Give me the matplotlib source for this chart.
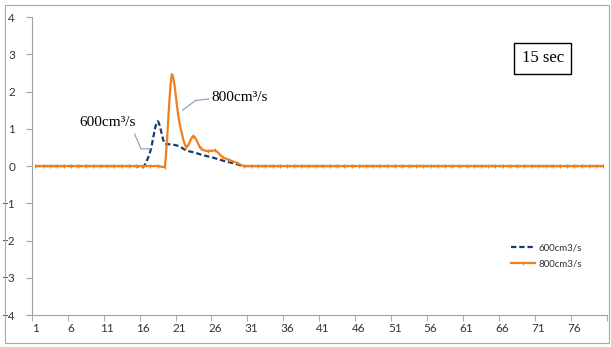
import matplotlib.pyplot as plt
import numpy as np
from matplotlib.lines import Line2D
from matplotlib.patches import PathPatch, Rectangle
from matplotlib.path import Path

# 80 categorias no eixo x
categorias = np.arange(1, 81)
rotulos_x = [str(c) for c in range(1, 81, 5)]

serie_600 = [0.0] * 15 + [-0.03, 0.40, 1.20, 0.59, 0.58, 0.53, 0.42, 0.37, 0.31,
                          0.26, 0.21, 0.15, 0.10, 0.05] + [0.0] * 51
serie_800 = [0.0] * 18 + [-0.03, 2.45, 1.22, 0.51, 0.80, 0.48, 0.40, 0.42, 0.25,
                          0.16, 0.09] + [0.0] * 51

nomes = ["600cm3/s", "800cm3/s"]
cor_600 = "#1B3A6B"
cor_800 = "#F07F1E"
cor_chamada = "#7F9DB9"


def caminho_suave(x, y):
    """Linha suavizada: curvas de Bezier pelos pontos, sem passar do intervalo."""
    p = np.column_stack([x, y]).astype(float)
    ext = np.vstack([p[0], p, p[-1]])
    verts = [p[0]]
    codes = [Path.MOVETO]
    for i in range(len(p) - 1):
        a, b = p[i], p[i + 1]
        c1 = ext[i + 1] + (ext[i + 2] - ext[i]) / 6.0
        c2 = ext[i + 2] - (ext[i + 3] - ext[i + 1]) / 6.0
        lo, hi = min(a[1], b[1]), max(a[1], b[1])
        c1[1] = np.clip(c1[1], lo, hi)
        c2[1] = np.clip(c2[1], lo, hi)
        verts += [c1, c2, b]
        codes += [Path.CURVE4] * 3
    return Path(verts, codes)


fig = plt.figure(figsize=(6.11, 3.47), dpi=100)
ax = fig.add_axes([0.052, 0.092, 0.941, 0.859])

estilo_600 = dict(color=cor_600, lw=1.6, dashes=(2.4, 1.3))
estilo_800 = dict(color=cor_800, lw=1.6)

ax.add_patch(PathPatch(caminho_suave(categorias, serie_600), fill=False,
                       ec=cor_600, lw=1.6, ls=(0, (2.4, 1.3)), capstyle="butt"))
ax.add_patch(PathPatch(caminho_suave(categorias, serie_800), fill=False,
                       ec=cor_800, lw=1.6))
ax.plot(categorias, serie_800, ls="none", color=cor_800, marker="|", ms=2.5, mew=0.8)

ax.set_xlim(0.5, 80.5)
ax.set_ylim(-4, 4)
ax.set_yticks(range(-4, 5))
ax.set_xticks(range(1, 81, 5))
ax.set_xticklabels(rotulos_x)
ax.set_xticks(np.arange(0.5, 81, 5), minor=True)
ax.tick_params(axis="x", which="major", length=0, pad=6)
ax.tick_params(axis="x", which="minor", length=4, color="#A0A0A0")
ax.tick_params(axis="y", length=4, color="#A0A0A0", pad=8)
for lab in ax.get_xticklabels() + ax.get_yticklabels():
    lab.set_fontfamily("Lato")
    lab.set_fontsize(8.5)
    lab.set_color("#333333")

for lado in ["top", "right"]:
    ax.spines[lado].set_visible(False)
for lado in ["left", "bottom"]:
    ax.spines[lado].set_color("#A0A0A0")

# chamadas de texto
ax.text(11.1, 1.16, "600cm³/s", fontsize=11, family="Liberation Serif",
        ha="center", va="center")
ax.plot([14.8, 15.7, 17.0], [0.86, 0.46, 0.46], color=cor_chamada, lw=0.8)
ax.text(29.4, 1.84, "800cm³/s", fontsize=11, family="Liberation Serif",
        ha="center", va="center")
ax.plot([25.1, 23.3, 21.5], [1.80, 1.76, 1.50], color=cor_chamada, lw=0.8)

ax.text(0.889, 0.862, "15 sec", transform=ax.transAxes, fontsize=12,
        family="Liberation Serif", ha="center", va="center",
        bbox=dict(boxstyle="square,pad=0.45", fc="white", ec="black", lw=1.0))

alcas = [Line2D([], [], **estilo_600),
         Line2D([], [], marker="|", ms=2.5, mew=0.8, markevery=[1], **estilo_800)]
leg = ax.legend(alcas, nomes, loc="center left", bbox_to_anchor=(0.818, 0.198),
                frameon=False, handlelength=2.5, handletextpad=0.3, labelspacing=0.75,
                prop={"family": "Lato", "size": 7})
for t in leg.get_texts():
    t.set_color("#333333")

# borda da area do grafico
fig.patches.append(Rectangle((0.008, 0.012), 0.988, 0.975, transform=fig.transFigure,
                             fill=False, ec="#A6A6A6", lw=0.8))

fig.savefig("out.png", dpi=100)
